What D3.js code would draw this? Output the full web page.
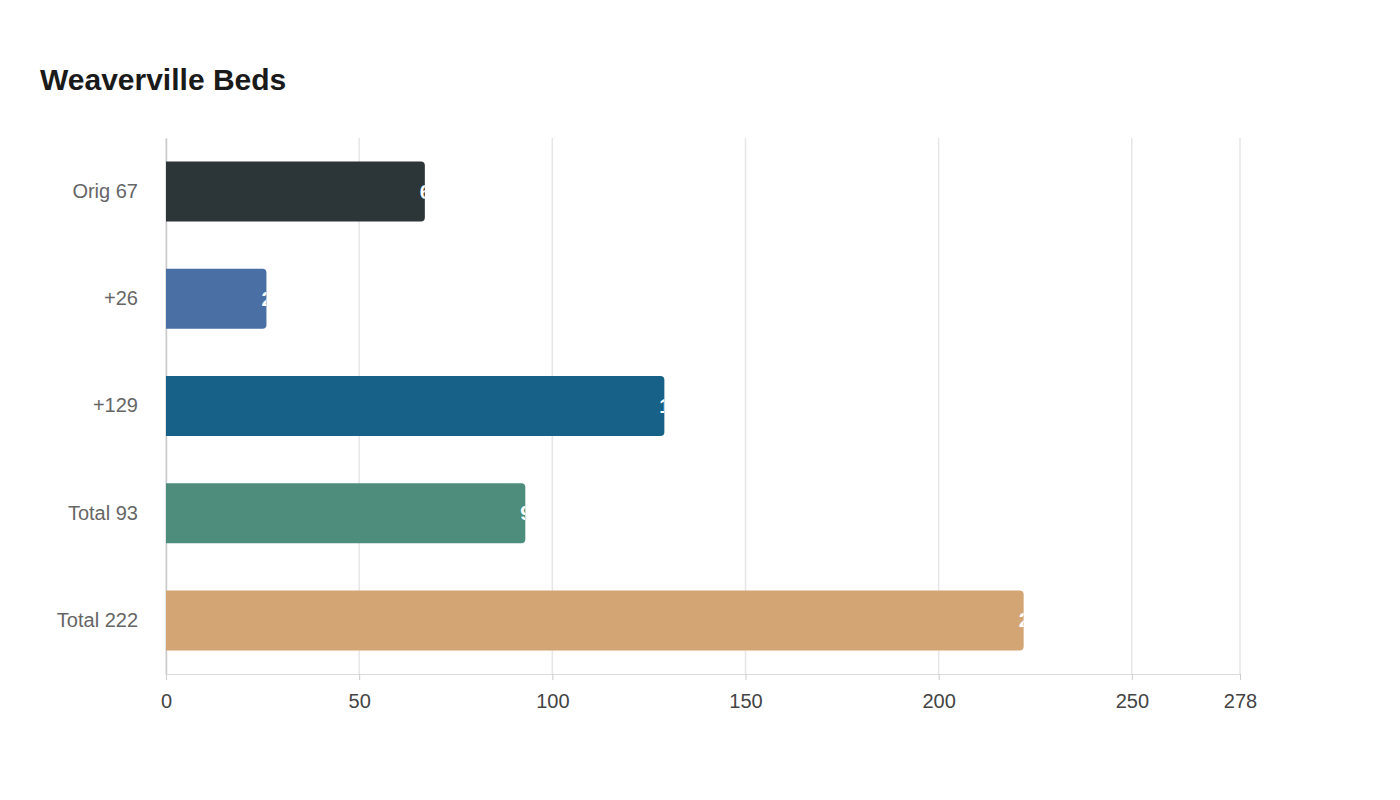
<!DOCTYPE html>
<html>
<head>
<meta charset="utf-8">
<script src="https://cdn.jsdelivr.net/npm/d3@7"></script>
<style>
  body { margin: 0; background: #fff; font-family: "Liberation Sans", Arial, sans-serif; }
</style>
</head>
<body>
<div id="chart"></div>
<script>
// Daten
const categories = ["Orig 67", "+26", "+129", "Total 93", "Total 222"]
const values = [67, 26, 129, 93, 222]
const colors = ["#2c3538", "#4a6fa5", "#176087", "#4e8d7c", "#d3a574"]
const tickValues = [0, 50, 100, 150, 200, 250, 278]

const margin = { top: 138, right: 160, bottom: 126, left: 166 }
const width = 1400 - margin.left - margin.right
const height = 800 - margin.top - margin.bottom

const root = d3.select("#chart").append("svg")
  .attr("width", 1400)
  .attr("height", 800)

root.append("text")
  .attr("x", 40).attr("y", 90)
  .style("font-size", "30px").style("font-weight", "bold").style("fill", "#1a1a1a")
  .text("Weaverville Beds")

const svg = root.append("g")
  .attr("transform", "translate(" + margin.left + "," + margin.top + ")")

const x = d3.scaleLinear().domain([0, 278]).range([0, width])
const y = d3.scaleBand().domain(categories).range([0, height]).paddingInner(0.44).paddingOuter(0.22)

// Gitterlinien
svg.selectAll(".grid").data(tickValues).enter().append("line")
  .attr("x1", d => x(d)).attr("x2", d => x(d))
  .attr("y1", 0).attr("y2", height)
  .style("stroke", "#e6e6e6").style("stroke-width", 1.5)

// X-Achse
const xAxis = svg.append("g")
  .attr("transform", "translate(0," + height + ")")
  .call(d3.axisBottom(x).tickValues(tickValues).tickSize(6).tickPadding(14).tickFormat(d3.format("d")))
xAxis.select(".domain").style("stroke", "#dddddd")
xAxis.selectAll(".tick line").style("stroke", "#cccccc")
xAxis.selectAll("text").style("font-size", "20px").style("fill", "#444").style("font-family", "Liberation Sans, Arial, sans-serif")

// Y-Achse
const yAxis = svg.append("g")
  .call(d3.axisLeft(y).tickSize(0).tickPadding(28))
yAxis.select(".domain").style("stroke", "#cccccc").style("stroke-width", 1.5)
yAxis.selectAll("text").style("font-size", "20px").style("fill", "#666").style("font-family", "Liberation Sans, Arial, sans-serif")

const data = categories.map((c, i) => ({ cat: c, value: values[i], color: colors[i], i: i }))

// Clip-Pfade je Balken
const defs = root.append("defs")
defs.selectAll("clipPath").data(data).enter().append("clipPath")
  .attr("id", d => "clip" + d.i)
  .append("rect")
  .attr("x", 0).attr("y", d => y(d.cat))
  .attr("width", d => x(d.value)).attr("height", y.bandwidth())

// Balken
svg.selectAll(".bar").data(data).enter().append("path")
  .attr("d", d => {
    const w = x(d.value), h = y.bandwidth(), r = 4, y0 = y(d.cat)
    return `M0,${y0}H${w - r}Q${w},${y0} ${w},${y0 + r}V${y0 + h - r}Q${w},${y0 + h} ${w - r},${y0 + h}H0Z`
  })
  .style("fill", d => d.color)

// Beschriftung
svg.selectAll(".label").data(data).enter().append("text")
  .attr("clip-path", d => "url(#clip" + d.i + ")")
  .attr("x", d => x(d.value) - 5)
  .attr("y", d => y(d.cat) + y.bandwidth() / 2)
  .attr("dy", ".35em")
  .style("font-size", "20px").style("font-weight", "bold").style("fill", "#fff")
  .text(d => d.value)
</script>
</body>
</html>
